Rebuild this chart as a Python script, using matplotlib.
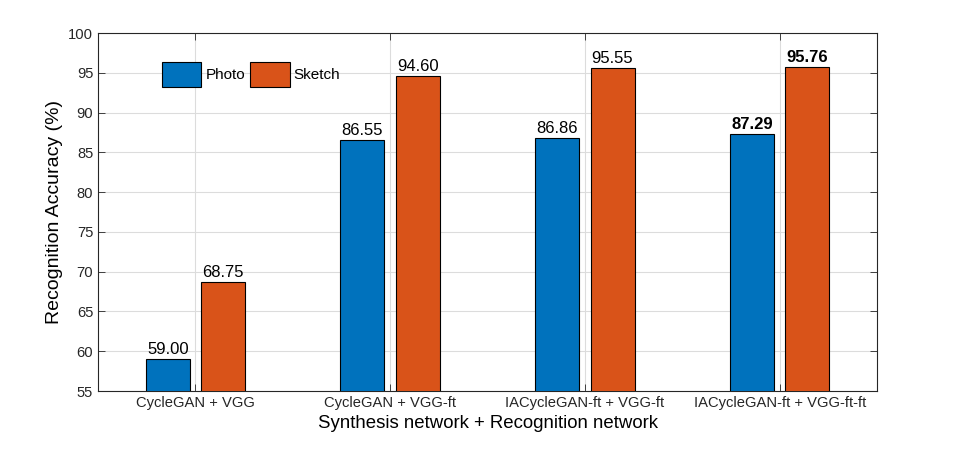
import numpy as np
import matplotlib.pyplot as plt

plt.rcParams['font.family'] = ['Liberation Sans', 'DejaVu Sans']

groups = ['CycleGAN + VGG', 'CycleGAN + VGG-ft', 'IACycleGAN-ft + VGG-ft', 'IACycleGAN-ft + VGG-ft-ft']
photo = [59.00, 86.55, 86.86, 87.29]
sketch = [68.75, 94.60, 95.55, 95.76]

fig = plt.figure(figsize=(9.69, 4.5), dpi=100)
ax = fig.add_axes([98 / 969, 1 - 391 / 450, 779 / 969, 358 / 450])

x = np.arange(1, len(groups) + 1)
w = 0.226
off = 0.142
ax.bar(x - off, photo, w, color='#0072BD', edgecolor='black', linewidth=0.8, label='Photo', zorder=3)
ax.bar(x + off, sketch, w, color='#D95319', edgecolor='black', linewidth=0.8, label='Sketch', zorder=3)

for i in range(len(groups)):
    bold = 'bold' if i == len(groups) - 1 else 'normal'
    ax.text(x[i] - off, photo[i] + 0.25, '%.2f' % photo[i], ha='center', va='bottom', fontsize=12, fontweight=bold)
    ax.text(x[i] + off, sketch[i] + 0.25, '%.2f' % sketch[i], ha='center', va='bottom', fontsize=12, fontweight=bold)

ax.set_xlim(0.5, 4.5)
ax.set_ylim(55, 100)
ax.set_yticks(np.arange(55, 101, 5))
ax.set_xticks(x)
ax.set_xticklabels(groups, fontsize=10.6)
ax.tick_params(axis='y', labelsize=10.6)
ax.tick_params(direction='in', top=True, right=True, length=5, width=0.6, colors='#262626')
ax.grid(True, color='#dcdcdc', linewidth=0.8, zorder=0)
ax.set_axisbelow(True)
for s in ax.spines.values():
    s.set_linewidth(0.8)
    s.set_color('#262626')

ax.set_xlabel('Synthesis network + Recognition network', fontsize=13.4)
ax.set_ylabel('Recognition Accuracy (%)', fontsize=14)

ax.legend(loc='upper left', bbox_to_anchor=(0.074, 0.937), ncol=2, frameon=False, fontsize=11,
          handlelength=2.6, handleheight=2.15, handletextpad=0.25, columnspacing=0.35, borderaxespad=0)

fig.savefig('out.png', dpi=100)
